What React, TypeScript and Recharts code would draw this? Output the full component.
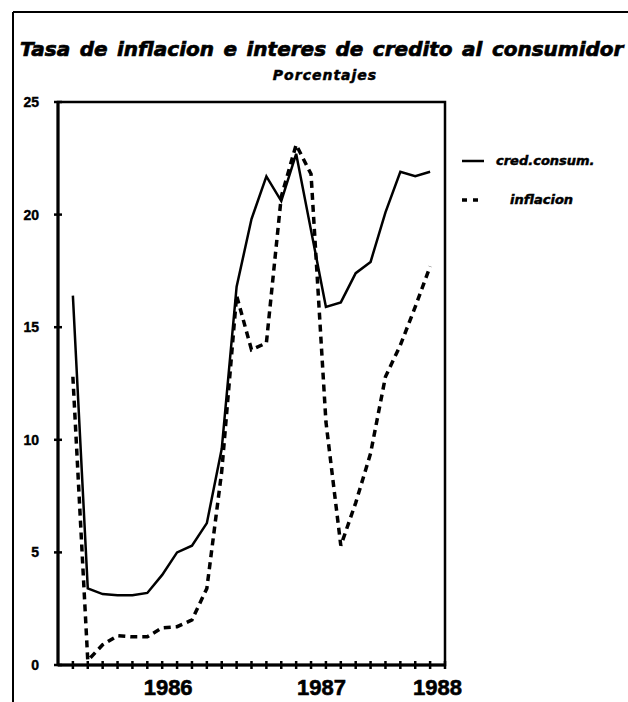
import React from "react";
import { LineChart, Line, XAxis, YAxis, ReferenceArea, Legend } from "recharts";

// periodos mensuales (posición en el eje, 1 = primer mes)
const periods = [1, 2, 3, 4, 5, 6, 7, 8, 9, 10, 11, 12, 13, 14, 15, 16, 17, 18, 19, 20, 21, 22, 23, 24, 25];
const credConsum = [16.4, 3.4, 3.15, 3.1, 3.1, 3.2, 4.0, 5.0, 5.3, 6.3, 9.6, 16.8, 19.8, 21.7, 20.6, 22.7, 19.3, 15.9, 16.1, 17.4, 17.9, 20.1, 21.9, 21.7, 21.9];
const inflacion = [12.8, 0.2, 0.9, 1.3, 1.25, 1.25, 1.65, 1.7, 2.0, 3.4, 8.6, 16.4, 14.0, 14.3, 20.8, 23.1, 21.8, 10.8, 5.3, 7.2, 9.4, 12.8, 14.2, 15.9, 17.7];

const xMarks = [1, 2, 3, 4, 5, 6, 7, 8, 9, 10, 11, 12, 13, 14, 15, 16, 17, 18, 19, 20, 21, 22, 23, 24, 25, 26];
const yearLabels = ["1986", "1987", "1988"];
const yearPos = [7.4, 17.7, 25.5];
const yTicks = [0, 5, 10, 15, 20, 25];

const TITLE = "Tasa de inflacion e interes de credito al consumidor";
const SUBTITLE = "Porcentajes";

const data = periods.map((p, i) => ({ p, cred: credConsum[i], infl: inflacion[i] }));
const xTicks = [...xMarks, ...yearPos].sort((a, b) => a - b);

const dashFor: Record<string, string | undefined> = { cred: undefined, infl: "5 6" };

// marca en cruz sobre el eje y etiqueta a la izquierda
function YTick(props: any) {
  const { x, y, payload } = props;
  return (
    <g>
      <line x1={x - 4} x2={x + 4} y1={y} y2={y} stroke="#000" strokeWidth={2.5} />
      <text
        x={x - 19}
        y={y + 5}
        textAnchor="end"
        fontFamily="'Liberation Sans', Arial, sans-serif"
        fontWeight="bold"
        fontSize={14}
        fill="#000"
        stroke="#000"
        strokeWidth={0.4}
      >
        {payload.value}
      </text>
    </g>
  );
}

// los meses llevan marca; los años sólo texto
function XTick(props: any) {
  const { x, y, payload } = props;
  const k = yearPos.indexOf(payload.value);
  if (k >= 0) {
    return (
      <text
        x={x}
        y={y + 30}
        textAnchor="middle"
        fontFamily="'Liberation Sans', Arial, sans-serif"
        fontWeight="bold"
        fontSize={22}
        fill="#000"
        stroke="#000"
        strokeWidth={0.6}
      >
        {yearLabels[k]}
      </text>
    );
  }
  return <line x1={x} x2={x} y1={y - 4} y2={y + 4} stroke="#000" strokeWidth={2.5} />;
}

function LegendBox(props: any) {
  const items = props.payload ?? [];
  return (
    <svg width={170} height={70}>
      {items.map((it: any, i: number) => {
        const dash = dashFor[it.dataKey];
        const cy = 16 + i * 39;
        return (
          <g key={it.dataKey}>
            <line
              x1={4}
              x2={dash ? 20 : 26}
              y1={cy}
              y2={cy}
              stroke="#000"
              strokeWidth={dash ? 3.5 : 2.5}
              strokeDasharray={dash}
            />
            <text
              x={dash ? 52 : 38}
              y={cy + 4}
              fontFamily="'DejaVu Sans', sans-serif"
              fontWeight="bold"
              fontStyle="italic"
              fontSize={13}
              fill="#000"
              stroke="#000"
              strokeWidth={0.5}
            >
              {it.value}
            </text>
          </g>
        );
      })}
    </svg>
  );
}

export default function App() {
  return (
    <div style={{ position: "absolute", left: 0, top: 0, width: 628, height: 702, background: "#fff" }}>
      <svg width={628} height={702} style={{ position: "absolute", left: 0, top: 0 }}>
        <line x1={13} x2={628} y1={12} y2={12} stroke="#000" strokeWidth={2} />
        <line x1={13} x2={13} y1={12} y2={702} stroke="#000" strokeWidth={2} />
        <text
          x={20}
          y={56}
          fontFamily="'DejaVu Sans', sans-serif"
          fontWeight="bold"
          fontStyle="italic"
          fontSize={20}
          wordSpacing={2.5}
          fill="#000"
          stroke="#000"
          strokeWidth={0.7}
        >
          {TITLE}
        </text>
        <text
          x={325}
          y={80}
          textAnchor="middle"
          fontFamily="'DejaVu Sans', sans-serif"
          fontWeight="bold"
          fontStyle="italic"
          fontSize={14}
          letterSpacing={1}
          fill="#000"
          stroke="#000"
          strokeWidth={0.5}
        >
          {SUBTITLE}
        </text>
      </svg>
      <div style={{ position: "absolute", left: 0, top: 0 }}>
        <LineChart width={628} height={702} data={data} margin={{ top: 102, right: 183, bottom: 0, left: 0 }}>
          <ReferenceArea
            x1={0}
            x2={26}
            y1={0}
            y2={25}
            fill="none"
            stroke="#000"
            strokeWidth={2.5}
            ifOverflow="visible"
          />
          <XAxis
            type="number"
            dataKey="p"
            domain={[0, 26]}
            ticks={xTicks}
            interval={0}
            height={37}
            tickSize={0}
            tickMargin={0}
            tickLine={false}
            axisLine={{ stroke: "#000", strokeWidth: 3 }}
            tick={<XTick />}
          />
          <YAxis
            type="number"
            domain={[0, 25]}
            ticks={yTicks}
            interval={0}
            width={58}
            tickSize={0}
            tickMargin={0}
            tickLine={false}
            axisLine={{ stroke: "#000", strokeWidth: 3 }}
            tick={<YTick />}
          />
          <Legend
            layout="vertical"
            align="center"
            verticalAlign="middle"
            content={<LegendBox />}
            wrapperStyle={{ left: 458, top: 145, width: 170, height: 70 }}
          />
          <Line
            type="linear"
            dataKey="cred"
            name="cred.consum."
            stroke="#000"
            strokeWidth={2.5}
            dot={false}
            isAnimationActive={false}
          />
          <Line
            type="linear"
            dataKey="infl"
            name="inflacion"
            stroke="#000"
            strokeWidth={3.5}
            strokeDasharray="7 5"
            dot={false}
            isAnimationActive={false}
          />
        </LineChart>
      </div>
    </div>
  );
}
